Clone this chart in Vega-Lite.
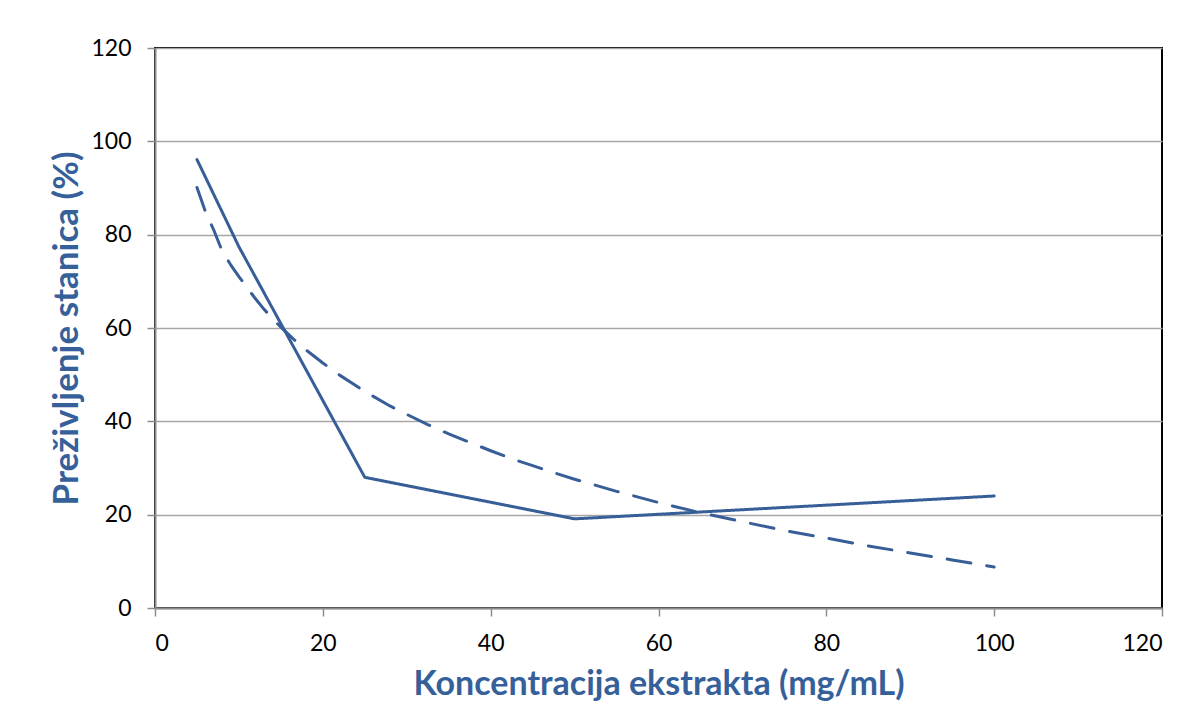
{
  "$schema": "https://vega.github.io/schema/vega-lite/v6.json",
  "description": "Preživljenje stanica prema koncentraciji ekstrakta",
  "autosize": {"type": "none"},
  "padding": {"left": 155, "top": 48, "right": 40, "bottom": 119},
  "width": 1007,
  "height": 560,
  "background": "white",
  "config": {
    "font": "Lato",
    "view": {"stroke": "#000000", "strokeWidth": 2},
    "axis": {
      "labelFont": "Lato",
      "labelFontSize": 23,
      "labelColor": "#000000",
      "titleFont": "Lato",
      "titleFontWeight": "bold",
      "titleColor": "#35609A",
      "domainColor": "#8c8c8c",
      "domainWidth": 2,
      "tickColor": "#8c8c8c",
      "tickWidth": 1.5,
      "tickSize": 8
    }
  },
  "data": {
    "values": [
      {"c": 5, "pct": 96.1, "series": "izmjereno"},
      {"c": 10, "pct": 77.4, "series": "izmjereno"},
      {"c": 25, "pct": 28.0, "series": "izmjereno"},
      {"c": 50, "pct": 19.1, "series": "izmjereno"},
      {"c": 100, "pct": 24.0, "series": "izmjereno"},

      {"c": 5, "pct": 90.1, "series": "trend"},
      {"c": 6, "pct": 85.0, "series": "trend"},
      {"c": 7, "pct": 81.0, "series": "trend"},
      {"c": 8, "pct": 76.5, "series": "trend"},
      {"c": 9, "pct": 73.6, "series": "trend"},
      {"c": 10, "pct": 71.0, "series": "trend"},
      {"c": 11, "pct": 68.6, "series": "trend"},
      {"c": 12, "pct": 66.2, "series": "trend"},
      {"c": 13, "pct": 64.0, "series": "trend"},
      {"c": 14, "pct": 62.0, "series": "trend"},
      {"c": 15, "pct": 60.2, "series": "trend"},
      {"c": 16.5, "pct": 57.6, "series": "trend"},
      {"c": 18, "pct": 55.3, "series": "trend"},
      {"c": 20, "pct": 52.5, "series": "trend"},
      {"c": 22, "pct": 49.9, "series": "trend"},
      {"c": 25, "pct": 46.4, "series": "trend"},
      {"c": 28, "pct": 43.3, "series": "trend"},
      {"c": 30, "pct": 41.5, "series": "trend"},
      {"c": 32.5, "pct": 39.3, "series": "trend"},
      {"c": 35, "pct": 37.3, "series": "trend"},
      {"c": 37.5, "pct": 35.5, "series": "trend"},
      {"c": 40, "pct": 33.7, "series": "trend"},
      {"c": 42.5, "pct": 32.0, "series": "trend"},
      {"c": 45, "pct": 30.5, "series": "trend"},
      {"c": 47.5, "pct": 29.0, "series": "trend"},
      {"c": 50, "pct": 27.6, "series": "trend"},
      {"c": 55, "pct": 25.0, "series": "trend"},
      {"c": 60, "pct": 22.6, "series": "trend"},
      {"c": 65, "pct": 20.4, "series": "trend"},
      {"c": 70, "pct": 18.5, "series": "trend"},
      {"c": 75, "pct": 16.6, "series": "trend"},
      {"c": 80, "pct": 15.0, "series": "trend"},
      {"c": 85, "pct": 13.3, "series": "trend"},
      {"c": 90, "pct": 11.8, "series": "trend"},
      {"c": 95, "pct": 10.3, "series": "trend"},
      {"c": 100, "pct": 8.8, "series": "trend"}
    ]
  },
  "mark": {
    "type": "line",
    "color": "#385E98",
    "strokeWidth": 3,
    "strokeCap": "round",
    "strokeJoin": "round"
  },
  "encoding": {
    "x": {
      "field": "c",
      "type": "quantitative",
      "scale": {"domain": [0, 120], "nice": false},
      "axis": {
        "title": "Koncentracija ekstrakta (mg/mL)",
        "titleFontSize": 34,
        "values": [0, 20, 40, 60, 80, 100, 120],
        "grid": false,
        "labelPadding": 16,
        "titlePadding": 12
      }
    },
    "y": {
      "field": "pct",
      "type": "quantitative",
      "scale": {"domain": [0, 120], "nice": false},
      "axis": {
        "title": "Preživljenje stanica (%)",
        "titleFontSize": 35,
        "values": [0, 20, 40, 60, 80, 100, 120],
        "grid": true,
        "gridColor": "#a6a6a6",
        "gridWidth": 1.5,
        "labelPadding": 16,
        "titlePadding": 6
      }
    },
    "detail": {"field": "series", "type": "nominal"},
    "strokeDash": {
      "field": "series",
      "type": "nominal",
      "scale": {"domain": ["izmjereno", "trend"], "range": [[1, 0], [24, 16]]},
      "legend": null
    }
  }
}
